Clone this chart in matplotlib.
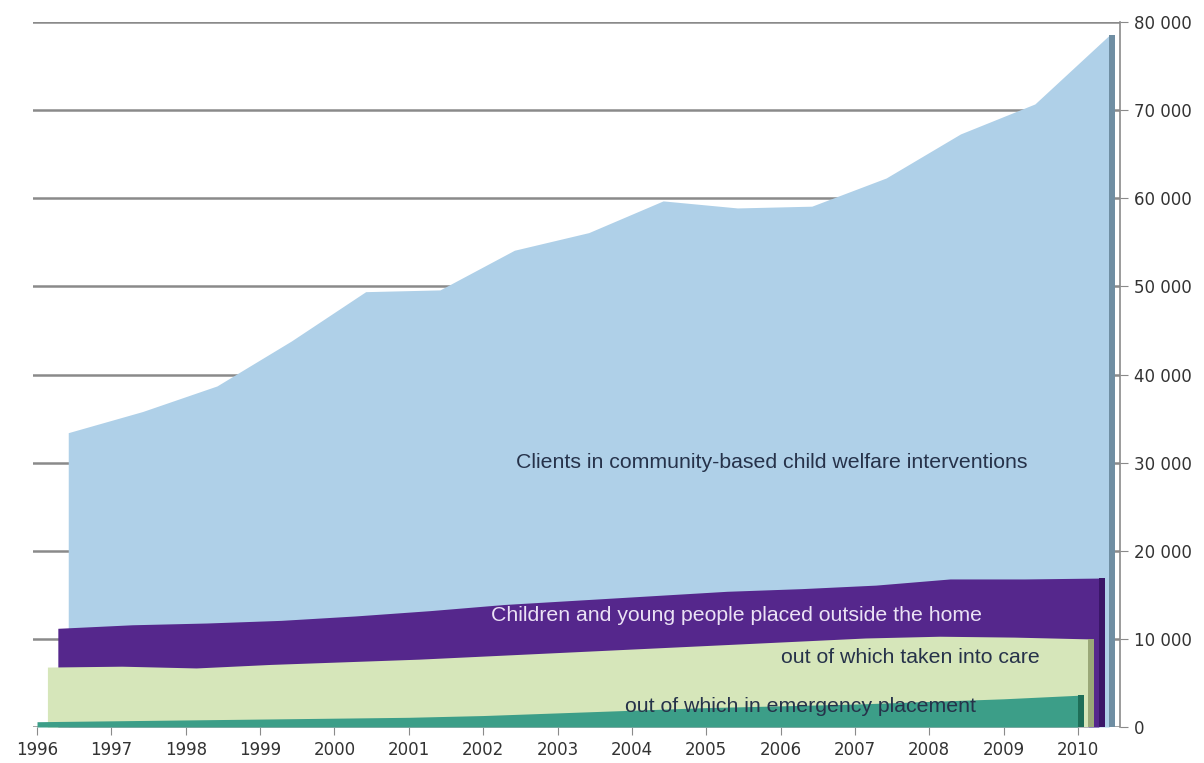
import numpy as np
import matplotlib
matplotlib.use("Agg")
import matplotlib.pyplot as plt
import matplotlib.ticker as mticker

# === Data ===
years = np.arange(1996, 2011)

clients_community = [33400, 35800, 38700, 43800, 49400, 49600, 54100, 56100,
                     59700, 58900, 59100, 62300, 67300, 70700, 78500]
placed_outside = [11200, 11600, 11800, 12100, 12600, 13200, 13900, 14400,
                  14900, 15400, 15700, 16100, 16800, 16800, 16900]
taken_into_care = [6800, 6900, 6700, 7100, 7400, 7700, 8100, 8500,
                   8900, 9300, 9700, 10100, 10300, 10200, 10000]
emergency = [600, 700, 800, 900, 1000, 1100, 1300, 1600,
             1900, 2200, 2400, 2600, 2900, 3200, 3600]

# back to front
series = [
    (clients_community, "#afd0e8", "#6f8ea3"),
    (placed_outside, "#55278c", "#3a1668"),
    (taken_into_care, "#d6e6ba", "#9aa878"),
    (emergency, "#3c9e88", "#1e6e58"),
]

labels = [
    ("Clients in community-based child welfare interventions", 2005.88, 30000, "#26324a"),
    ("Children and young people placed outside the home", 2005.41, 12600, "#ebe2f5"),
    ("out of which taken into care", 2007.74, 7830, "#26324a"),
    ("out of which in emergency placement", 2006.27, 2380, "#26324a"),
]

# === Figure ===
fig = plt.figure(figsize=(12.04, 7.63), dpi=100)
ax = fig.add_axes([33 / 1204, 36 / 763, (1120 - 33) / 1204, 705 / 763])

depth_step = 0.14   # pseudo-3D shift between series (years)
side_w = 0.08       # width of the dark side face (years)

n = len(series)
for i, (vals, col, side_col) in enumerate(series):
    shift = (n - 1 - i) * depth_step
    xs = years + shift
    ax.fill_between(xs, 0, vals, color=col, lw=0, zorder=2 + i)
    xe = xs[-1]
    ax.fill_between([xe, xe + side_w], 0, [vals[-1], vals[-1]],
                    color=side_col, lw=0, zorder=2 + i)

for txt, x, y, c in labels:
    ax.text(x, y, txt, color=c, fontsize=15.3, ha="center", va="center",
            family=["Liberation Sans Narrow", "Liberation Sans", "DejaVu Sans"],
            zorder=10)

ax.set_xlim(1995.946, 2010.565)
ax.set_ylim(0, 80000)

ax.yaxis.tick_right()
ax.set_yticks(np.arange(0, 80001, 10000))
ax.yaxis.set_major_formatter(mticker.FuncFormatter(
    lambda v, p: f"{int(v):,}".replace(",", " ")))
ax.set_xticks(years)
ax.set_xticklabels([str(y) for y in years])

ax.grid(axis="y", color="#8a8a8a", lw=1.8, zorder=1)
ax.set_axisbelow(True)

for s in ["top", "left", "bottom"]:
    ax.spines[s].set_visible(False)
ax.spines["right"].set_color("#8a8a8a")
ax.spines["right"].set_linewidth(1.2)

ax.tick_params(axis="y", direction="out", length=6, color="#8a8a8a",
               labelsize=12, labelcolor="#333333", pad=4)
ax.tick_params(axis="x", direction="out", length=6, color="#8a8a8a",
               labelsize=12, labelcolor="#333333", pad=4)

fig.savefig("out.png", dpi=100, facecolor="white")
